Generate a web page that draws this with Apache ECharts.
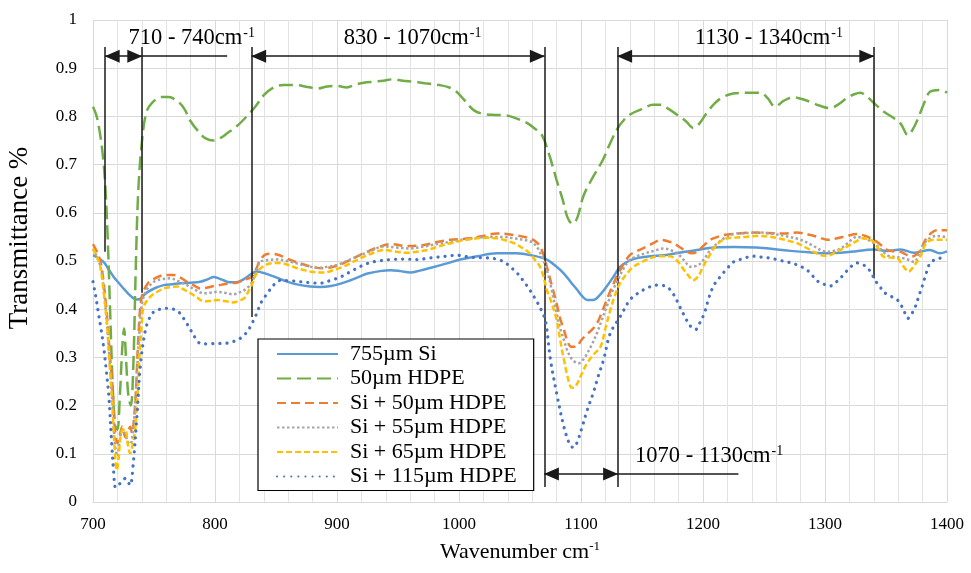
<!DOCTYPE html>
<html><head><meta charset="utf-8">
<script src="https://cdn.jsdelivr.net/npm/echarts@6/dist/echarts.min.js"></script>
<style>html,body{margin:0;padding:0;background:#fff}#c{width:971px;height:573px}</style>
</head><body><div id="c"></div>
<script>
const FONT = "'Liberation Serif','Times New Roman',serif";

const seriesNames = ['755µm Si', '50µm HDPE', 'Si + 50µm HDPE', 'Si + 55µm HDPE', 'Si + 65µm HDPE', 'Si + 115µm HDPE'];

const si755 = [[700,0.512],[705,0.505],[709,0.497],[713,0.482],[717,0.467],[721,0.455],[725,0.443],[729,0.432],[733,0.423],[736,0.420],[739,0.422],[742,0.430],[745,0.436],[751,0.444],[758,0.450],[765,0.452],[772,0.454],[780,0.455],[788,0.457],[794,0.462],[799,0.467],[803,0.464],[807,0.46],[812,0.456],[818,0.456],[824,0.463],[829,0.472],[834,0.478],[840,0.475],[848,0.468],[856,0.46],[866,0.452],[878,0.447],[886,0.446],[895,0.448],[903,0.453],[911,0.46],[918,0.467],[925,0.474],[935,0.479],[944,0.481],[952,0.479],[960,0.476],[968,0.48],[977,0.486],[990,0.495],[1001,0.503],[1015,0.51],[1031,0.516],[1047,0.516],[1061,0.511],[1072,0.503],[1080,0.488],[1086,0.474],[1092,0.455],[1097,0.44],[1101,0.427],[1105,0.419],[1110,0.419],[1115,0.428],[1121,0.447],[1127,0.469],[1132,0.488],[1139,0.5],[1146,0.506],[1157,0.51],[1168,0.512],[1180,0.517],[1195,0.523],[1210,0.528],[1225,0.529],[1244,0.528],[1258,0.525],[1272,0.521],[1287,0.518],[1302,0.516],[1321,0.519],[1340,0.524],[1351,0.521],[1362,0.524],[1373,0.517],[1386,0.523],[1394,0.516],[1400,0.52]];

const hdpe50 = [[700,0.82],[703,0.80],[706,0.76],[708,0.72],[710,0.66],[712,0.55],[714,0.40],[716,0.25],[718,0.16],[720,0.15],[722,0.22],[724,0.32],[725.5,0.36],[727,0.30],[729,0.22],[731,0.20],[733,0.28],[735,0.48],[737,0.64],[740,0.745],[744,0.81],[750,0.832],[756,0.84],[762,0.84],[770,0.83],[775,0.815],[780,0.79],[786,0.77],[792,0.755],[799,0.75],[805,0.756],[810,0.765],[818,0.78],[826,0.80],[833,0.82],[840,0.844],[848,0.86],[856,0.865],[866,0.865],[876,0.861],[884,0.858],[892,0.862],[900,0.863],[908,0.86],[915,0.866],[922,0.87],[930,0.872],[938,0.874],[946,0.877],[954,0.874],[963,0.872],[972,0.869],[984,0.865],[992,0.86],[998,0.851],[1005,0.832],[1012,0.813],[1020,0.805],[1030,0.803],[1039,0.802],[1048,0.795],[1056,0.786],[1062,0.775],[1068,0.761],[1074,0.72],[1080,0.668],[1085,0.627],[1089,0.59],[1093,0.577],[1097,0.59],[1102,0.635],[1110,0.675],[1118,0.71],[1124,0.745],[1130,0.775],[1135,0.792],[1141,0.805],[1150,0.815],[1159,0.824],[1166,0.824],[1172,0.815],[1179,0.803],[1186,0.79],[1192,0.776],[1197,0.785],[1203,0.807],[1210,0.828],[1217,0.841],[1226,0.848],[1236,0.849],[1247,0.849],[1253,0.838],[1259,0.82],[1266,0.832],[1274,0.84],[1281,0.836],[1288,0.83],[1296,0.822],[1304,0.817],[1311,0.825],[1318,0.838],[1324,0.846],[1329,0.849],[1334,0.842],[1340,0.828],[1348,0.81],[1356,0.797],[1362,0.785],[1368,0.761],[1373,0.778],[1378,0.807],[1382,0.832],[1386,0.851],[1394,0.855],[1400,0.849]];

const siHdpe50 = [[700,0.535],[703,0.52],[706,0.50],[708,0.47],[710,0.426],[712,0.37],[714,0.30],[716,0.24],[718,0.15],[720,0.122],[722,0.14],[724,0.156],[726.5,0.135],[728.5,0.145],[730.5,0.156],[732,0.143],[733.5,0.17],[735,0.22],[737.5,0.357],[740,0.426],[745,0.454],[750,0.463],[755,0.469],[760,0.471],[766,0.471],[772,0.465],[777,0.457],[783,0.449],[788,0.443],[794,0.445],[799,0.448],[806,0.451],[812,0.454],[818,0.455],[823,0.46],[830,0.467],[834,0.485],[837,0.502],[842,0.514],[847,0.515],[853,0.512],[858,0.506],[864,0.5],[870,0.495],[879,0.488],[889,0.485],[897,0.488],[905,0.495],[913,0.505],[922,0.516],[932,0.527],[944,0.535],[957,0.531],[971,0.533],[983,0.54],[993,0.544],[1009,0.547],[1020,0.552],[1031,0.557],[1045,0.554],[1058,0.547],[1064,0.538],[1068,0.522],[1072,0.488],[1076,0.45],[1080,0.412],[1083,0.38],[1086,0.357],[1089,0.333],[1092,0.322],[1096,0.322],[1100,0.335],[1104,0.346],[1108,0.355],[1113,0.37],[1117,0.393],[1121,0.419],[1127,0.455],[1132,0.481],[1140,0.512],[1147,0.522],[1154,0.53],[1160,0.538],[1165,0.544],[1171,0.541],[1176,0.537],[1182,0.527],[1187,0.519],[1191,0.516],[1195,0.519],[1201,0.533],[1206,0.544],[1212,0.55],[1217,0.554],[1228,0.557],[1239,0.559],[1252,0.558],[1266,0.557],[1277,0.559],[1288,0.554],[1295,0.549],[1302,0.544],[1310,0.547],[1318,0.552],[1326,0.556],[1333,0.552],[1340,0.544],[1345,0.535],[1351,0.523],[1357,0.52],[1362,0.519],[1366,0.514],[1370,0.509],[1374,0.512],[1378,0.523],[1384,0.55],[1392,0.564],[1400,0.564]];

const siHdpe55 = [[700,0.525],[703,0.51],[706,0.49],[708,0.46],[710,0.41],[712,0.35],[714,0.28],[716,0.2],[718,0.12],[720,0.095],[722,0.13],[724,0.15],[726.5,0.14],[728.5,0.125],[730.5,0.12],[732,0.13],[734,0.18],[736,0.27],[738,0.35],[740,0.41],[744,0.44],[750,0.457],[756,0.462],[763,0.464],[770,0.458],[777,0.45],[784,0.44],[791,0.433],[796,0.434],[802,0.436],[808,0.434],[815,0.431],[821,0.436],[826,0.443],[830,0.455],[834,0.48],[837,0.498],[844,0.502],[851,0.503],[859,0.5],[867,0.495],[875,0.49],[884,0.486],[892,0.488],[900,0.492],[908,0.5],[916,0.509],[927,0.52],[938,0.53],[949,0.528],[960,0.526],[971,0.53],[982,0.535],[993,0.54],[1004,0.545],[1015,0.548],[1026,0.55],[1036,0.55],[1045,0.547],[1055,0.543],[1061,0.537],[1066,0.52],[1072,0.481],[1076,0.44],[1080,0.392],[1083,0.36],[1086,0.336],[1089,0.313],[1093,0.295],[1098,0.288],[1102,0.296],[1105,0.308],[1109,0.327],[1113,0.35],[1117,0.377],[1121,0.405],[1125,0.433],[1130,0.46],[1135,0.485],[1140,0.502],[1147,0.511],[1154,0.517],[1161,0.522],[1168,0.526],[1174,0.522],[1179,0.516],[1184,0.503],[1190,0.488],[1195,0.49],[1198,0.495],[1202,0.508],[1206,0.523],[1212,0.537],[1217,0.547],[1225,0.556],[1236,0.558],[1247,0.559],[1258,0.556],[1269,0.551],[1280,0.544],[1290,0.532],[1297,0.522],[1302,0.519],[1307,0.521],[1313,0.526],[1319,0.538],[1326,0.55],[1333,0.546],[1340,0.537],[1346,0.524],[1351,0.512],[1358,0.508],[1364,0.506],[1369,0.502],[1373,0.498],[1378,0.52],[1384,0.544],[1392,0.552],[1400,0.549]];

const siHdpe65 = [[700,0.526],[703,0.51],[706,0.488],[709,0.43],[711.5,0.371],[713.5,0.29],[715.5,0.218],[717.5,0.12],[719.5,0.066],[721,0.09],[722.5,0.135],[724.5,0.15],[726.5,0.15],[728.5,0.12],[730.5,0.101],[732.5,0.12],[734.5,0.149],[736.5,0.22],[738,0.30],[740,0.37],[741.5,0.405],[747,0.426],[752,0.435],[758,0.443],[764,0.446],[769,0.447],[775,0.44],[780,0.433],[786,0.423],[791,0.416],[796,0.417],[802,0.419],[808,0.417],[815,0.414],[820,0.418],[824,0.423],[828,0.44],[831,0.455],[834,0.474],[839,0.488],[845,0.495],[851,0.496],[856,0.495],[864,0.488],[873,0.481],[881,0.477],[889,0.476],[897,0.481],[905,0.488],[913,0.498],[922,0.509],[930,0.517],[938,0.523],[947,0.52],[957,0.517],[965,0.519],[974,0.523],[983,0.53],[993,0.537],[1004,0.543],[1015,0.547],[1023,0.548],[1031,0.547],[1038,0.543],[1045,0.537],[1052,0.527],[1058,0.516],[1063,0.5],[1066,0.49],[1069,0.47],[1072,0.44],[1075,0.42],[1080,0.378],[1083,0.335],[1086,0.295],[1089,0.26],[1091.5,0.239],[1094,0.237],[1097,0.246],[1101,0.268],[1105,0.288],[1110,0.305],[1116,0.322],[1120,0.36],[1124,0.398],[1128,0.43],[1132,0.454],[1138,0.475],[1143,0.488],[1150,0.498],[1157,0.506],[1165,0.51],[1173,0.51],[1179,0.5],[1184,0.483],[1188,0.47],[1192,0.46],[1196,0.468],[1200,0.488],[1205,0.51],[1211,0.533],[1218,0.546],[1225,0.548],[1235,0.55],[1245,0.552],[1253,0.551],[1262,0.547],[1270,0.542],[1277,0.537],[1285,0.527],[1293,0.516],[1299,0.511],[1304,0.512],[1310,0.52],[1318,0.53],[1325,0.54],[1331,0.547],[1336,0.545],[1340,0.54],[1344,0.525],[1348,0.509],[1354,0.507],[1359,0.506],[1364,0.49],[1368.5,0.478],[1373,0.49],[1378,0.509],[1384,0.54],[1392,0.544],[1400,0.544]];

const siHdpe115 = [[700,0.457],[702,0.43],[704.5,0.391],[706.5,0.36],[708.7,0.322],[711,0.27],[713,0.218],[715.5,0.115],[717,0.06],[718.5,0.03],[720.5,0.035],[722.5,0.039],[724.5,0.045],[726.5,0.049],[728.5,0.042],[730.5,0.035],[733,0.08],[736,0.177],[739,0.288],[743,0.357],[746,0.38],[750,0.395],[755,0.4],[761,0.402],[766,0.4],[770,0.395],[775,0.378],[780,0.357],[784,0.34],[788,0.329],[795,0.328],[801,0.329],[807,0.329],[814,0.332],[821,0.34],[826,0.352],[829,0.364],[834,0.39],[838,0.415],[843,0.433],[848,0.45],[854,0.46],[862,0.459],[870,0.457],[878,0.455],[886,0.454],[895,0.46],[903,0.467],[914,0.482],[925,0.495],[934,0.5],[944,0.503],[955,0.504],[966,0.503],[975,0.506],[982,0.508],[990,0.51],[998,0.512],[1004,0.51],[1009,0.508],[1018,0.507],[1026,0.506],[1032,0.503],[1037,0.498],[1042,0.488],[1048,0.474],[1053,0.458],[1058,0.44],[1064,0.415],[1068,0.395],[1071,0.375],[1075,0.295],[1080,0.226],[1086,0.156],[1091,0.118],[1094,0.113],[1097,0.125],[1101,0.156],[1105,0.19],[1110,0.226],[1114,0.26],[1118.5,0.295],[1124,0.35],[1132,0.384],[1140,0.419],[1146,0.432],[1151,0.44],[1156,0.446],[1162,0.45],[1170,0.447],[1176,0.43],[1181,0.405],[1186,0.38],[1190,0.364],[1194,0.358],[1198,0.375],[1201,0.391],[1205,0.425],[1209,0.45],[1214,0.467],[1220,0.485],[1225,0.498],[1233,0.505],[1241,0.51],[1248,0.508],[1255,0.506],[1262,0.502],[1269,0.498],[1276,0.493],[1283,0.485],[1288,0.475],[1293,0.46],[1299,0.452],[1304,0.448],[1310,0.458],[1315,0.471],[1320,0.485],[1326,0.496],[1331,0.492],[1334,0.488],[1338,0.475],[1341,0.46],[1345,0.447],[1348,0.436],[1353,0.428],[1359,0.42],[1362,0.41],[1364.5,0.398],[1368,0.381],[1371,0.39],[1374,0.405],[1377,0.428],[1380,0.45],[1383,0.475],[1386,0.495],[1391,0.504],[1395,0.506],[1400,0.506]];

// annotation values (data coordinates)
const bandEdges = [710, 740, 830, 1070, 1130, 1340];
const bandEdgeBottoms = [0.519, 0.434, 0.384, 0.031, 0.031, 0.464];
const bandEdgeTop = 0.944;
const rangeArrows = [[710, 740, 0.925], [830, 1070, 0.925], [1130, 1340, 0.925], [1070, 1130, 0.058]];
const leaderLines = [[740, 810, 0.925], [1130, 1229, 0.058]];
const rangeLabels = [['710 - 740', 781, 0.963], ['830 - 1070', 962, 0.963], ['1130 - 1340', 1254, 0.963], ['1070 - 1130', 1205, 0.095]];

const allData = [si755, hdpe50, siHdpe50, siHdpe55, siHdpe65, siHdpe115];
const colors = ['#5B9BD5', '#70AD47', '#ED7D31', '#A5A5A5', '#FFC000', '#4472C4'];
const dashTypes = ['solid', [14, 6], [9, 5], [2.5, 2.5], [6, 3], [0.1, 7]];
const widths = [2.5, 2.5, 2.5, 2.5, 2.5, 3.2];
const caps = ['butt', 'butt', 'butt', 'butt', 'butt', 'round'];

const chart = echarts.init(document.getElementById('c'), null, {renderer: 'canvas'});

const series = allData.map((d, i) => ({
  name: seriesNames[i],
  type: 'line',
  data: d,
  smooth: 0.35,
  symbol: 'none',
  showSymbol: false,
  animation: false,
  color: colors[i],
  lineStyle: {color: colors[i], width: widths[i], type: dashTypes[i], cap: caps[i]},
  z: 2 + i
}));

const lineBlack = {color: '#1a1a1a', width: 1.5, type: 'solid'};
const mlData = [];
bandEdges.forEach((x, i) => {
  mlData.push([{coord: [x, bandEdgeBottoms[i]], symbol: 'none'}, {coord: [x, bandEdgeTop], symbol: 'none'}]);
});
rangeArrows.forEach(a => {
  mlData.push([
    {coord: [a[0], a[2]], symbol: 'triangle', symbolSize: [13, 15], symbolOffset: [0, 7]},
    {coord: [a[1], a[2]], symbol: 'triangle', symbolSize: [13, 15], symbolOffset: [0, 7]}
  ]);
});
leaderLines.forEach(a => {
  mlData.push([{coord: [a[0], a[2]], symbol: 'none'}, {coord: [a[1], a[2]], symbol: 'none'}]);
});

const mpData = rangeLabels.map(l => ({
  coord: [l[1], l[2]],
  value: l[0],
  label: {formatter: l[0] + 'cm{sup|-1}'}
}));

series.push({
  type: 'line',
  data: [],
  silent: true,
  animation: false,
  z: 20,
  markLine: {
    silent: true,
    animation: false,
    symbol: ['none', 'none'],
    label: {show: false},
    lineStyle: lineBlack,
    itemStyle: {color: '#000'},
    emphasis: {disabled: true},
    data: mlData
  },
  markPoint: {
    silent: true,
    animation: false,
    symbol: 'rect',
    symbolSize: 1,
    itemStyle: {color: 'rgba(0,0,0,0)'},
    label: {
      show: true,
      position: 'inside',
      color: '#000',
      fontFamily: FONT,
      fontSize: 22.5,
      lineHeight: 24,
      rich: {sup: {fontFamily: FONT, fontSize: 14, lineHeight: 24, verticalAlign: 'top', padding: [0, 0, 0, 1]}}
    },
    data: mpData
  }
});

chart.setOption({
  animation: false,
  backgroundColor: '#fff',
  grid: {left: 93, right: 24, top: 20, bottom: 71, containLabel: false, outerBoundsMode: 'none'},
  xAxis: {
    type: 'value', min: 700, max: 1400, interval: 100,
    axisLine: {show: true, lineStyle: {color: '#d9d9d9', width: 1}},
    axisTick: {show: false},
    axisLabel: {color: '#000', fontFamily: FONT, fontSize: 17, margin: 14, formatter: v => String(v)},
    splitLine: {show: true, lineStyle: {color: '#d9d9d9', width: 1}},
    minorTick: {show: false, splitNumber: 5},
    minorSplitLine: {show: true, lineStyle: {color: '#e3e3e3', width: 1}},
    name: 'Wavenumber cm{sup|-1}',
    nameLocation: 'middle',
    nameGap: 38,
    nameTextStyle: {color: '#000', fontFamily: FONT, fontSize: 22, lineHeight: 24,
      rich: {sup: {fontFamily: FONT, fontSize: 13, lineHeight: 24, verticalAlign: 'top'}}}
  },
  yAxis: {
    type: 'value', min: 0, max: 1, interval: 0.1,
    axisLine: {show: false},
    axisTick: {show: false},
    axisLabel: {color: '#000', fontFamily: FONT, fontSize: 17, margin: 16},
    splitLine: {show: true, lineStyle: {color: '#d9d9d9', width: 1}},
    name: 'Transmittance %',
    nameLocation: 'middle',
    nameGap: 60,
    nameTextStyle: {color: '#000', fontFamily: FONT, fontSize: 27, padding: [0, 0, 0, 46]}
  },
  legend: {
    show: true,
    data: seriesNames,
    orient: 'vertical',
    left: 258,
    top: 339,
    itemWidth: 61,
    itemHeight: 14,
    itemGap: 2.5,
    padding: [4, 17, 3, 18],
    borderColor: '#000',
    borderWidth: 1.2,
    backgroundColor: '#fff',
    selectedMode: false,
    itemStyle: {opacity: 0},
    textStyle: {color: '#000', fontFamily: FONT, fontSize: 22, lineHeight: 22, padding: [0, 0, 0, 7]},
    z: 30
  },
  series: series
});
</script>
</body></html>
